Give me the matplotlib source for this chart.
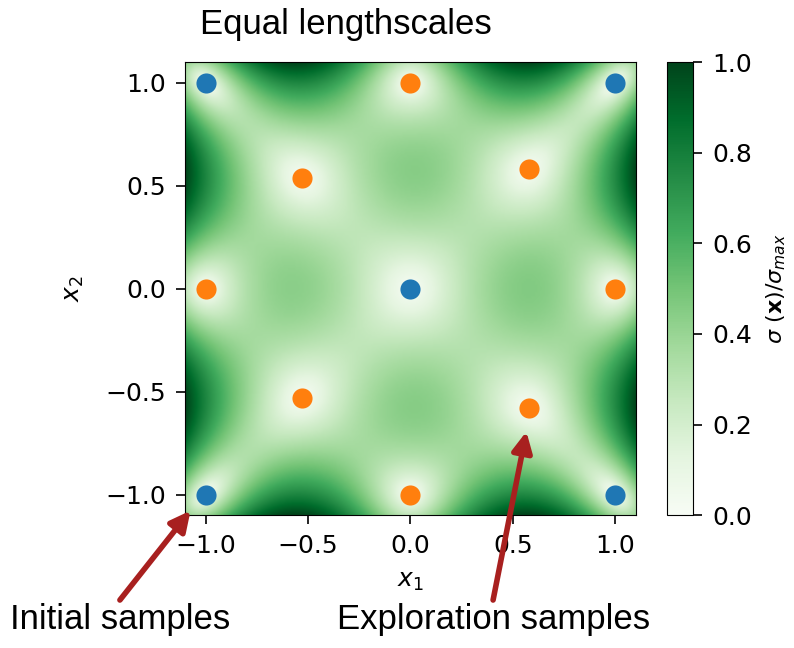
import numpy as np
import matplotlib
matplotlib.use("Agg")
import matplotlib.pyplot as plt

plt.rcParams['font.family'] = ['DejaVu Sans']

# sample locations
init_x1 = [-1.0, 1.0, 0.0, -1.0, 1.0]
init_x2 = [1.0, 1.0, 0.0, -1.0, -1.0]
expl_x1 = [0.0, -0.53, 0.58, -1.0, 1.0, -0.53, 0.58, 0.0]
expl_x2 = [1.0, 0.54, 0.58, 0.0, 0.0, -0.53, -0.58, -1.0]
lengthscale = 0.88
cbar_ticks = [0.0, 0.2, 0.4, 0.6, 0.8, 1.0]
axis_ticks = [-1.0, -0.5, 0.0, 0.5, 1.0]


def gp_std(X, grid, ls, noise=1e-6):
    # posterior std of a unit-variance RBF GP conditioned on X
    def k(a, b):
        d2 = ((a[:, None, :] - b[None, :, :]) ** 2).sum(-1)
        return np.exp(-0.5 * d2 / ls ** 2)
    K = k(X, X) + noise * np.eye(len(X))
    Ks = k(grid, X)
    v = np.linalg.solve(K, Ks.T)
    var = 1.0 - (Ks * v.T).sum(1)
    return np.sqrt(np.clip(var, 0, None))


X = np.column_stack([init_x1 + expl_x1, init_x2 + expl_x2])
g = np.linspace(-1.1, 1.1, 220)
G1, G2 = np.meshgrid(g, g)
grid = np.column_stack([G1.ravel(), G2.ravel()])
s = gp_std(X, grid, lengthscale).reshape(G1.shape)
s = s / s.max()

fig = plt.figure(figsize=(7.94, 6.48), dpi=100)
ax = fig.add_axes([0.233, 0.205, 0.568, 0.699])
cax = fig.add_axes([0.840, 0.205, 0.033, 0.699])

im = ax.imshow(s, origin="lower", extent=[-1.1, 1.1, -1.1, 1.1],
               cmap="Greens", vmin=0, vmax=1, interpolation="bilinear",
               aspect="auto")
ax.scatter(init_x1, init_x2, s=210, color="#1f77b4", zorder=3, linewidths=0)
ax.scatter(expl_x1, expl_x2, s=210, color="#ff7f0e", zorder=3, linewidths=0)
ax.set_xlim(-1.1, 1.1)
ax.set_ylim(-1.1, 1.1)
ax.set_xticks(axis_ticks)
ax.set_yticks(axis_ticks)
ax.tick_params(labelsize=18, length=6.5, width=1.2, pad=7)
ax.set_xlabel("$x_1$", fontsize=18, labelpad=8)
ax.set_ylabel("$x_2$", fontsize=18, labelpad=14)

cb = fig.colorbar(im, cax=cax, ticks=cbar_ticks)
cb.ax.tick_params(labelsize=18, length=6.5, width=1.2, pad=7)
cb.set_label(r"$\sigma\ (\mathbf{x})/\sigma_{max}$", fontsize=16, labelpad=9)

fig.text(0.435, 0.962, "Equal lengthscales", fontsize=25,
         family="Liberation Sans", ha="center", va="center")

arrow_col = "#a8201f"
fig.text(0.013, 0.018, "Initial samples", fontsize=25,
         family="Liberation Sans", ha="left", va="bottom")
fig.text(0.424, 0.018, "Exploration samples", fontsize=25,
         family="Liberation Sans", ha="left", va="bottom")
fig.add_artist(matplotlib.patches.FancyArrowPatch(
    (0.151, 0.074), (0.240, 0.212), transform=fig.transFigure,
    arrowstyle="-|>,head_length=12,head_width=6", lw=4, color=arrow_col,
    shrinkA=0, shrinkB=0))
fig.add_artist(matplotlib.patches.FancyArrowPatch(
    (0.621, 0.074), (0.663, 0.334), transform=fig.transFigure,
    arrowstyle="-|>,head_length=12,head_width=6", lw=4, color=arrow_col,
    shrinkA=0, shrinkB=0))

fig.savefig("out.png", dpi=100)
